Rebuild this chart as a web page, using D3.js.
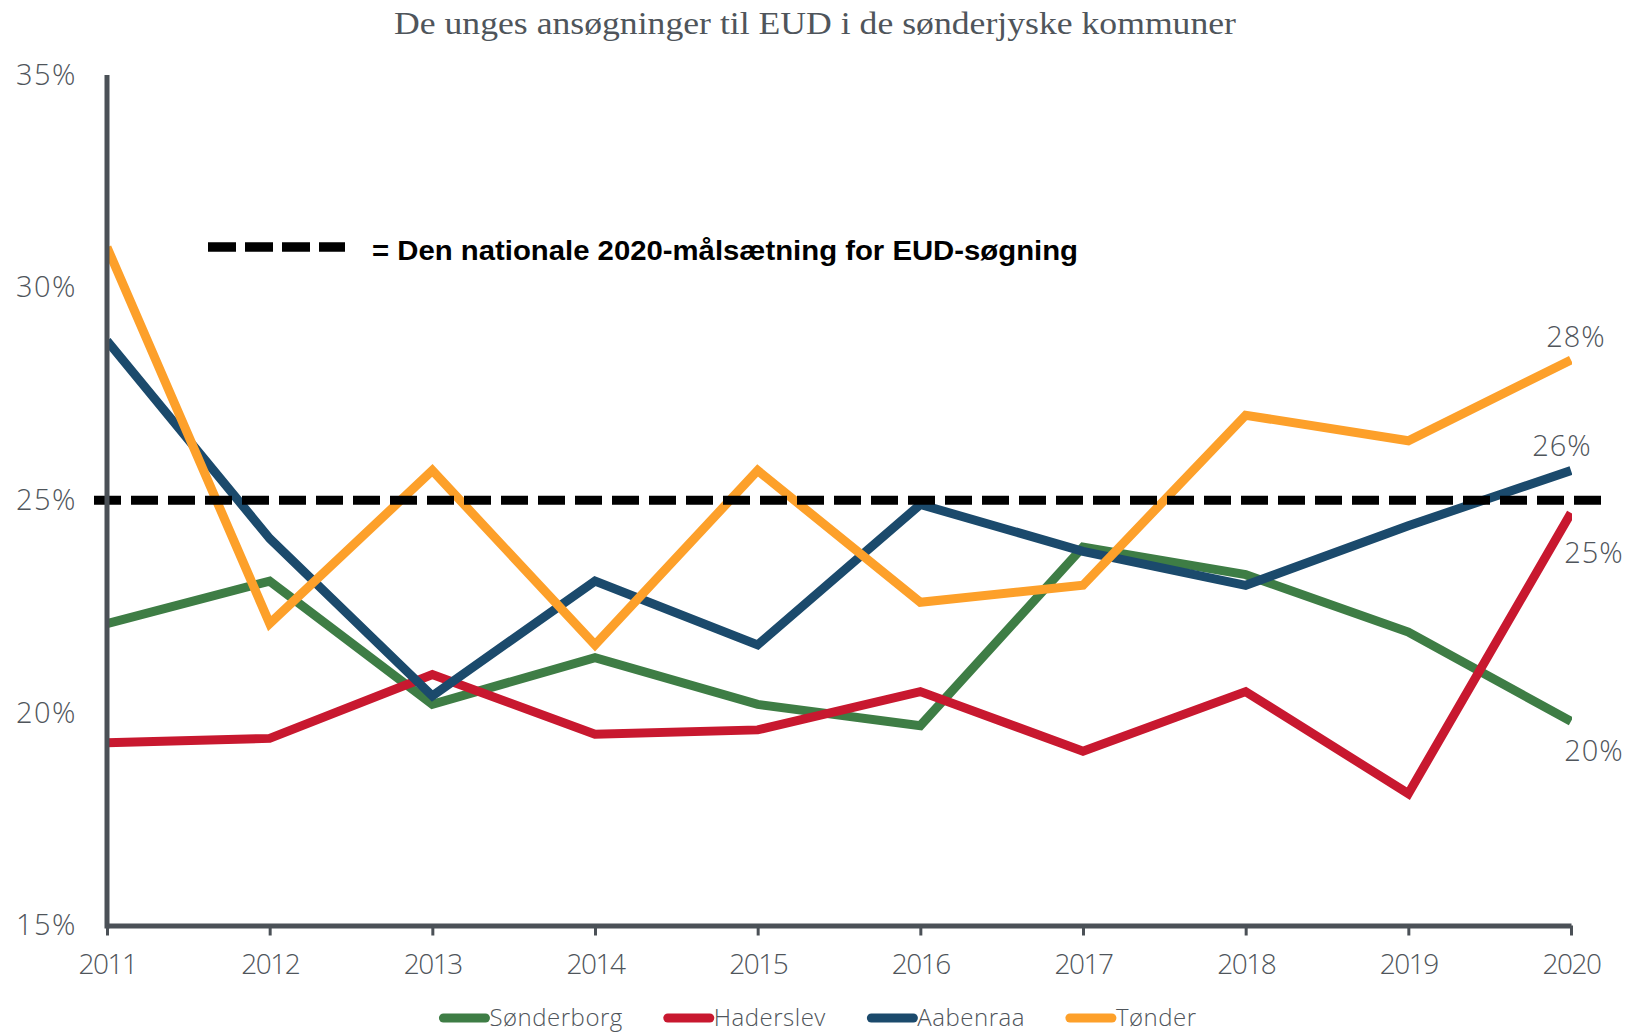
<!DOCTYPE html>
<html>
<head>
<meta charset="utf-8">
<script src="https://cdn.jsdelivr.net/npm/d3@7"></script>
<style>
  body { margin: 0; background: #fff; }
  svg { display: block; }
</style>
</head>
<body>
<div id="chart"></div>
<script>
// Data
const years = [2011, 2012, 2013, 2014, 2015, 2016, 2017, 2018, 2019, 2020];
const soenderborg = [22.1, 23.1, 20.2, 21.3, 20.2, 19.7, 23.9, 23.25, 21.9, 19.8];
const haderslev   = [19.3, 19.4, 20.9, 19.5, 19.6, 20.5, 19.1, 20.5, 18.1, 24.7];
const aabenraa    = [28.75, 24.1, 20.4, 23.1, 21.6, 24.9, 23.8, 23.0, 24.4, 25.7];
const toender     = [30.95, 22.1, 25.7, 21.6, 25.7, 22.6, 23.0, 27.0, 26.4, 28.3];
const seriesNames = ["Sønderborg", "Haderslev", "Aabenraa", "Tønder"];
const yTicks = [15, 20, 25, 30, 35];
const target = 25;

const colors = ["#3e7d45", "#c8182f", "#1b4a6c", "#fda02a"];
const seriesValues = [soenderborg, haderslev, aabenraa, toender];
const series = seriesNames.map((name, i) => ({
  name,
  color: colors[i],
  values: years.map((y, j) => ({ year: y, value: seriesValues[i][j] }))
}));

// end label offsets (dx, dy from last point)
const endLabelOffset = {
  "Tønder": [5, -13],
  "Aabenraa": [-9, -14],
  "Haderslev": [23, 50],
  "Sønderborg": [23, 40]
};

const width = 1636, height = 1035;
const margin = { top: 75, right: 65, bottom: 110, left: 107 };
const axisColor = "#4b5157";
const textColor = "#4f555b";
const labelFont = "'Open Sans', Lato, sans-serif";

const svg = d3.select("#chart").append("svg")
  .attr("width", width)
  .attr("height", height);

const x = d3.scaleLinear()
  .domain([2011, 2020])
  .range([margin.left, width - margin.right]);

const y = d3.scaleLinear()
  .domain([15, 35])
  .range([height - margin.bottom + 0.5, margin.top]);

// Title
svg.append("text")
  .attr("x", 815)
  .attr("y", 34)
  .attr("text-anchor", "middle")
  .attr("textLength", 842)
  .attr("lengthAdjust", "spacingAndGlyphs")
  .style("font-family", "'Liberation Serif', serif")
  .style("font-size", "32px")
  .style("fill", textColor)
  .text("De unges ansøgninger til EUD i de sønderjyske kommuner");

// Clip for the lines
svg.append("defs").append("clipPath")
  .attr("id", "plotClip")
  .append("rect")
  .attr("x", x(2011))
  .attr("y", 0)
  .attr("width", x(2020) - x(2011) + 1)
  .attr("height", height);

const line = d3.line()
  .x(d => x(d.year))
  .y(d => y(d.value));

svg.append("g")
  .attr("clip-path", "url(#plotClip)")
  .selectAll("path")
  .data(series)
  .enter()
  .append("path")
  .attr("d", d => line(d.values))
  .attr("fill", "none")
  .attr("stroke", d => d.color)
  .attr("stroke-width", 9)
  .attr("stroke-linejoin", "miter")
  .attr("stroke-linecap", "butt");

// National target line
svg.append("line")
  .attr("x1", x(2011) - 13)
  .attr("x2", width - 29)
  .attr("y1", y(target))
  .attr("y2", y(target))
  .attr("stroke", "#000")
  .attr("stroke-width", 9)
  .attr("stroke-dasharray", "27,10");

// Annotation for the target line
svg.append("line")
  .attr("x1", 208)
  .attr("x2", 345)
  .attr("y1", 247)
  .attr("y2", 247)
  .attr("stroke", "#000")
  .attr("stroke-width", 9.5)
  .attr("stroke-dasharray", "28,9");

svg.append("text")
  .attr("x", 372)
  .attr("y", 260)
  .attr("textLength", 706)
  .attr("lengthAdjust", "spacingAndGlyphs")
  .style("font-family", "'Liberation Sans', Arial, sans-serif")
  .style("font-weight", "bold")
  .style("font-size", "28px")
  .style("fill", "#000")
  .text("= Den nationale 2020-målsætning for EUD-søgning");

// Y axis
const yAxisG = svg.append("g")
  .attr("transform", `translate(${x(2011)},0)`)
  .call(d3.axisLeft(y).tickValues(yTicks).tickSize(0).tickPadding(30).tickFormat(d => d + "%"));
yAxisG.select(".domain").remove();
yAxisG.selectAll("text")
  .style("font-family", labelFont)
  .style("font-weight", 300)
  .style("font-size", "29px")
  .style("letter-spacing", "1.5px")
  .style("fill", textColor);

svg.append("line")
  .attr("x1", x(2011))
  .attr("x2", x(2011))
  .attr("y1", margin.top)
  .attr("y2", y(15) + 3)
  .attr("stroke", axisColor)
  .attr("stroke-width", 5);

// X axis
const xAxisG = svg.append("g")
  .attr("transform", `translate(0,${y(15)})`)
  .call(d3.axisBottom(x).tickValues(years).tickFormat(d3.format("d")).tickSize(10).tickSizeOuter(0).tickPadding(19));
xAxisG.select(".domain")
  .attr("stroke", axisColor)
  .attr("stroke-width", 5);
xAxisG.selectAll(".tick line")
  .attr("stroke", axisColor)
  .attr("stroke-width", 3);
xAxisG.selectAll("text")
  .style("font-family", labelFont)
  .style("font-weight", 300)
  .style("font-size", "28px")
  .style("letter-spacing", "-1.5px")
  .style("fill", textColor);

// End labels
svg.selectAll(".endLabel")
  .data(series)
  .enter()
  .append("text")
  .attr("class", "endLabel")
  .attr("x", d => x(2020) + endLabelOffset[d.name][0])
  .attr("y", d => y(d.values[d.values.length - 1].value) + endLabelOffset[d.name][1])
  .attr("text-anchor", "middle")
  .style("font-family", labelFont)
  .style("font-weight", 300)
  .style("font-size", "29px")
  .style("letter-spacing", "1px")
  .style("fill", textColor)
  .text(d => Math.round(d.values[d.values.length - 1].value) + "%");

// Legend
const legend = svg.append("g");
const items = legend.selectAll("g")
  .data(series)
  .enter()
  .append("g");

items.append("line")
  .attr("x1", 4)
  .attr("x2", 46)
  .attr("y1", 0)
  .attr("y2", 0)
  .attr("stroke", d => d.color)
  .attr("stroke-width", 9)
  .attr("stroke-linecap", "round");

items.append("text")
  .attr("x", 50)
  .attr("y", 8)
  .style("font-family", labelFont)
  .style("font-weight", 300)
  .style("font-size", "24px")
  .style("letter-spacing", "0.5px")
  .style("fill", textColor)
  .text(d => d.name);

const itemGap = 45;
let cursor = 0;
const widths = [];
items.each(function () {
  const w = this.getBBox().width;
  widths.push(w);
});
const totalW = d3.sum(widths) + itemGap * (widths.length - 1);
let startX = 816 - totalW / 2;
items.attr("transform", (d, i) => {
  const tx = startX + cursor;
  cursor += widths[i] + itemGap;
  return `translate(${tx},1018)`;
});
</script>
</body>
</html>
